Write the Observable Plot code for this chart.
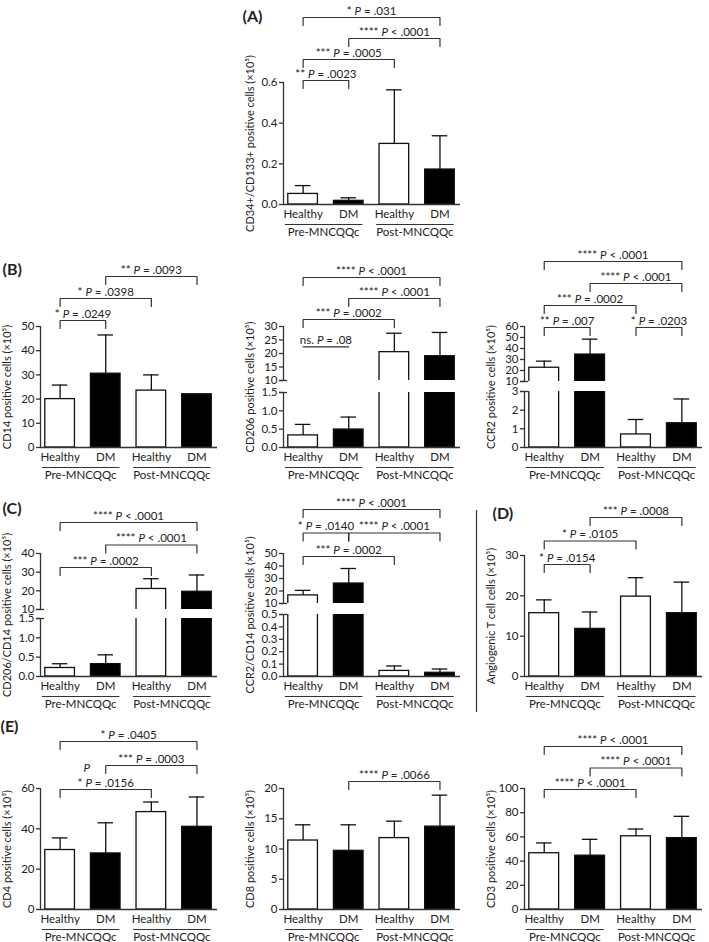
<!DOCTYPE html>
<html>
<head>
<meta charset="utf-8">
<script src="https://cdn.jsdelivr.net/npm/d3@7"></script>
<script src="https://cdn.jsdelivr.net/npm/@observablehq/plot@0.6"></script>
<style>
  body { margin: 0; background: #fff; }
  #page { position: relative; width: 709px; height: 942px; overflow: hidden; background: #fff; }
  #page svg { position: absolute; overflow: visible; }
</style>
</head>
<body>
<div id="page"></div>
<script>
// ---------------- DATA ----------------
const categories = ["Healthy", "DM", "Healthy", "DM"];
const groups = ["Pre-MNCQQc", "Post-MNCQQc"];
const fills = ["white", "black", "white", "black"];

// (A) CD34+/CD133+
const cd34Mean  = [0.052, 0.018, 0.298, 0.172];
const cd34Upper = [0.093, 0.033, 0.564, 0.338];
const cd34Ticks = [0, 0.2, 0.4, 0.6];
const cd34Brackets = [[0, 1, "** P = .0023", 0], [0, 2, "*** P = .0005", 1], [1, 3, "**** P < .0001", 2], [0, 3, "* P = .031", 3]];

// (B) CD14
const cd14Mean  = [20, 30.5, 23.5, 22];
const cd14Upper = [25.8, 46.5, 30, null];
const cd14Ticks = [0, 10, 20, 30, 40, 50];
const cd14Brackets = [[0, 1, "* P = .0249", 0], [0, 2, "* P = .0398", 1], [1, 3, "** P = .0093", 2]];

// (B) CD206
const cd206Mean  = [0.33, 0.49, 20.5, 19];
const cd206Upper = [0.63, 0.83, 27.5, 27.8];
const cd206TicksHigh = [10, 15, 20, 25, 30];
const cd206TicksLow  = [0, 0.5, 1.0, 1.5];
const cd206Brackets = [[0, 1, "ns. P = .08", -1.3], [0, 2, "*** P = .0002", 0], [1, 3, "**** P < .0001", 1], [0, 3, "**** P < .0001", 2]];

// (B) CCR2
const ccr2Mean  = [22.5, 34.5, 0.7, 1.3];
const ccr2Upper = [28.5, 48.5, 1.5, 2.6];
const ccr2TicksHigh = [10, 20, 30, 40, 50, 60];
const ccr2TicksLow  = [0, 1, 2, 3];
const ccr2Brackets = [[0, 1, "** P = .007", 0], [2, 3, "* P = .0203", 0], [0, 2, "*** P = .0002", 1], [1, 3, "**** P < .0001", 2], [0, 3, "**** P < .0001", 3]];

// (C) CD206/CD14
const cd206cd14Mean  = [0.22, 0.32, 21, 19.5];
const cd206cd14Upper = [0.33, 0.56, 26.5, 28.5];
const cd206cd14TicksHigh = [10, 20, 30, 40];
const cd206cd14TicksLow  = [0, 0.5, 1.0, 1.5];
const cd206cd14Brackets = [[0, 2, "*** P = .0002", 0], [1, 3, "**** P < .0001", 1], [0, 3, "**** P < .0001", 2]];

// (C) CCR2/CD14
const ccr2cd14Mean  = [16.5, 26, 0.045, 0.03];
const ccr2cd14Upper = [20.5, 38, 0.085, 0.06];
const ccr2cd14TicksHigh = [10, 20, 30, 40, 50];
const ccr2cd14TicksLow  = [0, 0.1, 0.2, 0.3, 0.4, 0.5];
const ccr2cd14Brackets = [[0, 2, "*** P = .0002", 0], [0, 1, "* P = .0140", 1], [1, 3, "**** P < .0001", 1], [0, 3, "**** P < .0001", 2]];

// (D) Angiogenic T cells
const angioMean  = [15.7, 11.8, 19.8, 15.7];
const angioUpper = [19, 16, 24.5, 23.4];
const angioTicks = [0, 10, 20, 30];
const angioBrackets = [[0, 1, "* P = .0154", 0], [0, 2, "* P = .0105", 1], [1, 3, "*** P = .0008", 2]];

// (E) CD4
const cd4Mean  = [29.5, 27.8, 48.3, 41];
const cd4Upper = [35.5, 43, 53.3, 55.8];
const cd4Ticks = [0, 20, 40, 60];
const cd4Brackets = [[0, 2, "* P = .0156", 0], [1, 3, "*** P = .0003", 1], [0, 3, "* P = .0405", 2]];
const cd4StrayLabels = [[0, 2, "P"]];

// (E) CD8
const cd8Mean  = [11.4, 9.7, 11.8, 13.7];
const cd8Upper = [14, 14, 14.6, 18.9];
const cd8Ticks = [0, 5, 10, 15, 20];
const cd8Brackets = [[1, 3, "**** P = .0066", 0]];

// (E) CD3
const cd3Mean  = [46.5, 44.5, 60.5, 59];
const cd3Upper = [55, 58, 66.5, 77];
const cd3Ticks = [0, 20, 40, 60, 80, 100];
const cd3Brackets = [[0, 2, "**** P < .0001", 0], [1, 3, "**** P < .0001", 1], [0, 3, "**** P < .0001", 2]];

// ---------------- LAYOUT / STYLE ----------------
const FONT = "Lato, 'Open Sans', sans-serif";
const FS = 11.5, FS_TITLE = 11;
const INK = "#111";
const LINE = "#333";
const XDOM = [-0.43, 3.45];
const BW = 0.65, CAP = 0.17, LEG = 8;
const page = document.getElementById("page");
const f1 = d3.format(".1f"), f0 = d3.format("d");

function drawSegment(o) {
  const mL = 70, mR = 20, mT = 130, mB = 60;
  const fw = o.fx1 - o.fx0, fh = o.fy1 - o.fy0;
  const [y0, y1] = o.ydom;
  const py = off => y1 - off * (y1 - y0) / fh;      // px below frame top -> value
  const pyb = off => y0 - off * (y1 - y0) / fh;     // px below frame bottom -> value
  const pxv = off => XDOM[0] + off * (XDOM[1] - XDOM[0]) / fw; // px right of frame left -> value
  const marks = [];

  const barRows = o.kind === "top" ? o.rows.filter(d => d.m > y0) : o.rows;
  marks.push(Plot.rect(barRows, {
    x1: d => d.i - BW / 2, x2: d => d.i + BW / 2, y1: () => 0, y2: d => d.m,
    fill: d => d.fill, stroke: INK, strokeWidth: 1.3, clip: true
  }));
  const errRows = o.rows.filter(d => d.u != null && d.m >= y0 && d.m <= y1);
  marks.push(Plot.ruleX(errRows, {x: "i", y1: "m", y2: "u", stroke: INK, strokeWidth: 1.3}));
  marks.push(Plot.ruleY(errRows, {y: "u", x1: d => d.i - CAP, x2: d => d.i + CAP, stroke: INK, strokeWidth: 1.3}));

  // y axis
  marks.push(Plot.ruleX([XDOM[0]], {y1: () => y0, y2: () => y1, stroke: LINE, strokeWidth: 1.3}));
  marks.push(Plot.axisY({ticks: o.ticks, tickFormat: o.fmt, tickSize: 4, tickPadding: 2, label: null, fontSize: FS, stroke: LINE, strokeWidth: 1.3}));
  if (o.kind === "top") marks.push(Plot.ruleY([y0], {x1: () => pxv(-4), x2: () => pxv(4), stroke: LINE, strokeWidth: 1.3}));
  if (o.kind === "bottom") marks.push(Plot.ruleY([y1], {x1: () => pxv(-4), x2: () => pxv(4), stroke: LINE, strokeWidth: 1.3}));

  if (o.kind !== "top") {
    marks.push(Plot.ruleY([0], {stroke: LINE, strokeWidth: 1.3}));
    marks.push(Plot.axisX({ticks: [0, 1, 2, 3], tickFormat: i => categories[i], tickSize: 0, tickPadding: 5, label: null, fontSize: FS}));
    const grp = groups.map((g, k) => ({g, k}));
    marks.push(Plot.link(grp, {x1: d => 2 * d.k - 0.4, x2: d => 2 * d.k + 1.3, y1: () => pyb(20), y2: () => pyb(20), stroke: LINE, strokeWidth: 1.2}));
    marks.push(Plot.text(grp, {x: d => 2 * d.k + 0.45, y: () => pyb(28), text: "g", fontSize: FS}));
  }
  if (o.title) {
    marks.push(Plot.text([o.title], {text: d => d, frameAnchor: "left", textAnchor: "middle", rotate: -90, dx: -33, dy: o.titleDy || 0, fontSize: FS_TITLE}));
  }
  if (o.letter) {
    marks.push(Plot.text([o.letter[0]], {text: d => d, frameAnchor: "top-left", textAnchor: "start", dx: o.letter[1], dy: o.letter[2], fontSize: 16, fontWeight: "bold"}));
  }
  if (o.brackets) {
    const bk = o.brackets.map(([a, b, label, tier], id) => {
      const off = o.base - tier * o.step;
      return {id, a, b, label, yl: py(off), yg: py(off + LEG), legs: !label.startsWith("ns")};
    });
    const pts = bk.flatMap(d => (d.legs
      ? [[d.a, d.yg], [d.a, d.yl], [d.b, d.yl], [d.b, d.yg]]
      : [[d.a, d.yl], [d.b, d.yl]]).map(([x, y]) => ({x, y, id: d.id})));
    marks.push(Plot.line(pts, {x: "x", y: "y", z: "id", stroke: LINE, strokeWidth: 1.2}));
    marks.push(Plot.text(bk, {x: d => (d.a + d.b) / 2, y: "yl", text: "label", dy: -3, lineAnchor: "bottom", fontSize: FS}));
    if (o.stray) {
      const st = o.stray.map(([a, b, t]) => ({x: (a + b) / 2, y: bk.find(d => d.a === a && d.b === b).yl, t}));
      marks.push(Plot.text(st, {x: "x", y: "y", text: "t", dx: -19, dy: -21, fontSize: FS}));
    }
  }
  if (o.separator) {
    const [sx, sy0, sy1] = o.separator;
    marks.push(Plot.ruleX([pxv(sx)], {y1: () => py(sy0), y2: () => py(sy1), stroke: LINE, strokeWidth: 1.2}));
  }

  const svg = Plot.plot({
    width: fw + mL + mR, height: fh + mT + mB,
    marginLeft: mL, marginRight: mR, marginTop: mT, marginBottom: mB,
    x: {domain: XDOM, axis: null},
    y: {domain: o.ydom, axis: null},
    style: {background: "transparent", overflow: "visible", fontFamily: FONT, fontSize: FS + "px", color: "#222"},
    marks
  });
  svg.style.left = (o.fx0 - mL) + "px";
  svg.style.top = (o.fy0 - mT) + "px";
  page.appendChild(svg);
}

function panel(p) {
  const rows = p.means.map((m, i) => ({i, m, u: p.uppers[i], fill: fills[i]}));
  const [fx0, fx1] = p.col;
  if (!p.brk) {
    drawSegment({fx0, fx1, fy0: p.top, fy1: p.zero, ydom: [0, p.ticks[p.ticks.length - 1]], ticks: p.ticks, fmt: p.fmt || f0,
      rows, kind: "single", title: p.title, letter: p.letter, brackets: p.brackets, base: p.base, step: p.step, stray: p.stray, separator: p.separator});
  } else {
    drawSegment({fx0, fx1, fy0: p.top, fy1: p.brk[0], ydom: [p.ticks[0], p.ticks[p.ticks.length - 1]], ticks: p.ticks, fmt: f0,
      rows, kind: "top", letter: p.letter, brackets: p.brackets, base: p.base, step: p.step});
    drawSegment({fx0, fx1, fy0: p.brk[1], fy1: p.zero, ydom: [0, p.ticksLow[p.ticksLow.length - 1]], ticks: p.ticksLow, fmt: p.fmtLow || f1,
      rows, kind: "bottom", title: p.title, titleDy: (p.top + p.zero) / 2 - (p.brk[1] + p.zero) / 2});
  }
}

const L = [40, 217], M = [283, 460], R = [524, 702];

panel({col: M, top: 82, zero: 204, means: cd34Mean, uppers: cd34Upper, ticks: cd34Ticks, fmt: f1,
  title: "CD34+/CD133+ positive cells (×10⁵)", letter: ["(A)", -41, -72], brackets: cd34Brackets, base: -2, step: 21});

panel({col: L, top: 326, zero: 447, means: cd14Mean, uppers: cd14Upper, ticks: cd14Ticks,
  title: "CD14 positive cells (×10⁵)", letter: ["(B)", -38, -63], brackets: cd14Brackets, base: -6, step: 22});
panel({col: M, top: 326, zero: 447, brk: [380, 392], means: cd206Mean, uppers: cd206Upper, ticks: cd206TicksHigh, ticksLow: cd206TicksLow,
  title: "CD206 positive cells (×10⁵)", brackets: cd206Brackets, base: -7, step: 21});
panel({col: R, top: 326, zero: 447, brk: [381, 391], means: ccr2Mean, uppers: ccr2Upper, ticks: ccr2TicksHigh, ticksLow: ccr2TicksLow, fmtLow: f0,
  title: "CCR2 positive cells (×10⁵)", brackets: ccr2Brackets, base: 1, step: 22});

panel({col: L, top: 553, zero: 676, brk: [609, 618], means: cd206cd14Mean, uppers: cd206cd14Upper, ticks: cd206cd14TicksHigh, ticksLow: cd206cd14TicksLow,
  title: "CD206/CD14 positive cells (×10⁵)", letter: ["(C)", -38, -51], brackets: cd206cd14Brackets, base: 14, step: 22.5});
panel({col: M, top: 553, zero: 676, brk: [603, 614], means: ccr2cd14Mean, uppers: ccr2cd14Upper, ticks: ccr2cd14TicksHigh, ticksLow: ccr2cd14TicksLow,
  title: "CCR2/CD14 positive cells (×10⁵)", brackets: ccr2cd14Brackets, base: 3, step: 23.5});
panel({col: R, top: 555, zero: 676, means: angioMean, uppers: angioUpper, ticks: angioTicks,
  title: "Angiogenic T cell cells (×10⁵)", letter: ["(D)", -32, -48], brackets: angioBrackets, base: 9, step: 23.5, separator: [-48, -45, 157]});

panel({col: L, top: 788, zero: 909, means: cd4Mean, uppers: cd4Upper, ticks: cd4Ticks,
  title: "CD4 positive cells (×10⁵)", letter: ["(E)", -40, -68], brackets: cd4Brackets, base: 1, step: 24, stray: cd4StrayLabels});
panel({col: M, top: 788, zero: 909, means: cd8Mean, uppers: cd8Upper, ticks: cd8Ticks,
  title: "CD8 positive cells (×10⁵)", brackets: cd8Brackets, base: -7, step: 22});
panel({col: R, top: 788, zero: 909, means: cd3Mean, uppers: cd3Upper, ticks: cd3Ticks,
  title: "CD3 positive cells (×10⁵)", brackets: cd3Brackets, base: 1, step: 21.5});

// italic "P" in the significance labels
page.querySelectorAll("text, tspan").forEach(el => {
  if (el.childNodes.length !== 1 || el.firstChild.nodeType !== 3) return;
  const s = el.textContent;
  if (!/(^|\s)P(\s|$)/.test(s)) return;
  const parts = s.split(/(?<=^|\s)(P)(?=\s|$)/);
  el.textContent = "";
  parts.forEach(part => {
    if (part === "") return;
    const t = document.createElementNS("http://www.w3.org/2000/svg", "tspan");
    if (part === "P") t.setAttribute("font-style", "italic");
    t.textContent = part;
    el.appendChild(t);
  });
});
</script>
</body>
</html>
